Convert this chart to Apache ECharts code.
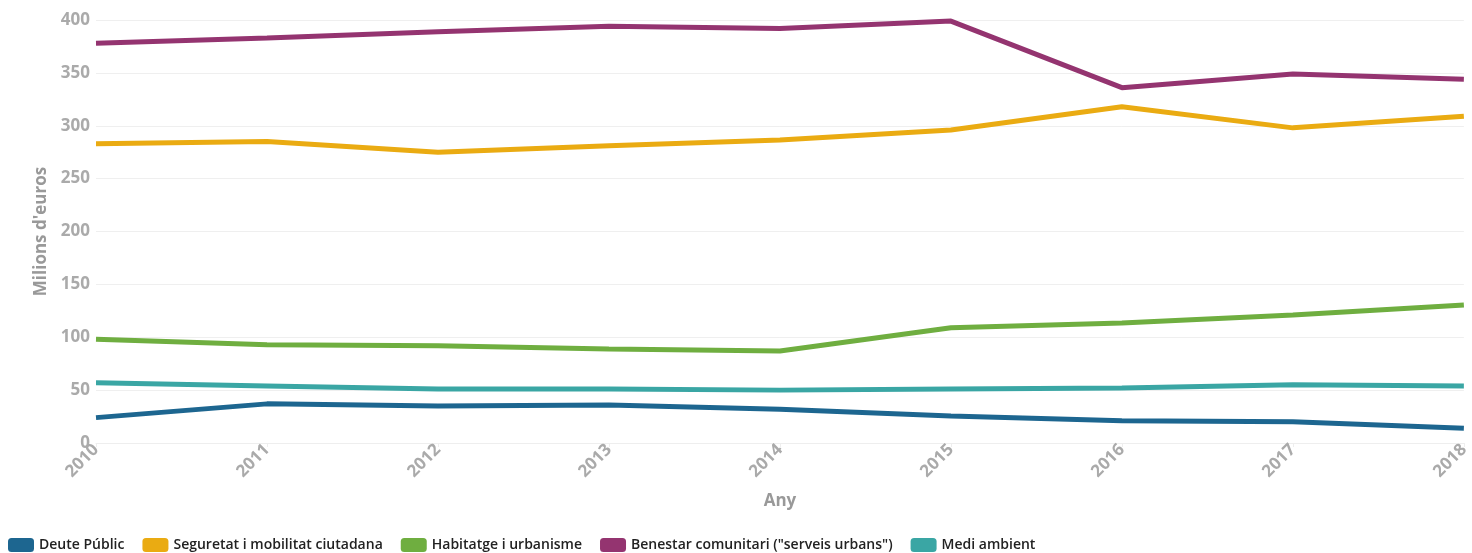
<!DOCTYPE html>
<html>
<head>
<meta charset="utf-8">
<style>html,body{margin:0;padding:0;background:#fff}#c{width:1472px;height:553px}</style>
<script src="https://cdn.jsdelivr.net/npm/echarts@6/dist/echarts.min.js"></script>
</head>
<body>
<div id="c"></div>
<script>
const years = ['2010','2011','2012','2013','2014','2015','2016','2017','2018'];
const yTicks = [0,50,100,150,200,250,300,350,400];
const deutePublic = [24,37,35,36,32,25.5,21,20,14];
const seguretat = [283,285,275,281,286.5,296,318,298,309];
const habitatge = [98,93,92,89,87,109,113.5,121,130.5];
const benestar = [378,383,389,394,392,399,336,349,344];
const mediAmbient = [57,54,51,51,50,51,52,55,54];

const names = ['Deute Públic','Seguretat i mobilitat ciutadana','Habitatge i urbanisme','Benestar comunitari ("serveis urbans")','Medi ambient'];
const colors = ['#1d6690','#eaab12','#6fae40','#943470','#3aa6a4'];
const datas = [deutePublic, seguretat, habitatge, benestar, mediAmbient];
const font = 'Open Sans';

const chart = echarts.init(document.getElementById('c'));
chart.setOption({
  animation: false,
  color: colors,
  grid: {left: 96, right: 8, top: 20, bottom: 110, containLabel: false},
  legend: {
    left: 8, top: 537, padding: 0, itemWidth: 26, itemHeight: 14, itemGap: 18,
    icon: 'roundRect',
    textStyle: {fontFamily: font, fontSize: 14, fontWeight: 600, color: '#222', lineHeight: 16},
    data: names
  },
  xAxis: {
    type: 'category', data: years, boundaryGap: false,
    name: 'Any', nameLocation: 'middle', nameGap: 50,
    nameTextStyle: {fontFamily: font, fontSize: 17, fontWeight: 'bold', color: '#999'},
    axisLine: {show: true, lineStyle: {color: '#eeeeee'}},
    axisTick: {show: true, length: 4, lineStyle: {color: '#eeeeee'}},
    axisLabel: {rotate: 45, fontFamily: font, fontSize: 17, fontWeight: 'bold', color: '#aaa', margin: 4}
  },
  yAxis: {
    type: 'value', min: 0, max: 400, interval: 50,
    name: "Milions d'euros", nameLocation: 'middle', nameGap: 46,
    nameTextStyle: {fontFamily: font, fontSize: 17, fontWeight: 'bold', color: '#999'},
    axisLine: {show: false}, axisTick: {show: false},
    splitLine: {lineStyle: {color: '#efefef'}},
    axisLabel: {fontFamily: font, fontSize: 17, fontWeight: 'bold', color: '#aaa', margin: 6,
      formatter: v => yTicks.includes(v) ? String(v) : ''}
  },
  series: datas.map((d, i) => ({
    name: names[i], type: 'line', data: d, symbol: 'none',
    lineStyle: {width: 5, color: colors[i]}
  }))
});
</script>
</body>
</html>
